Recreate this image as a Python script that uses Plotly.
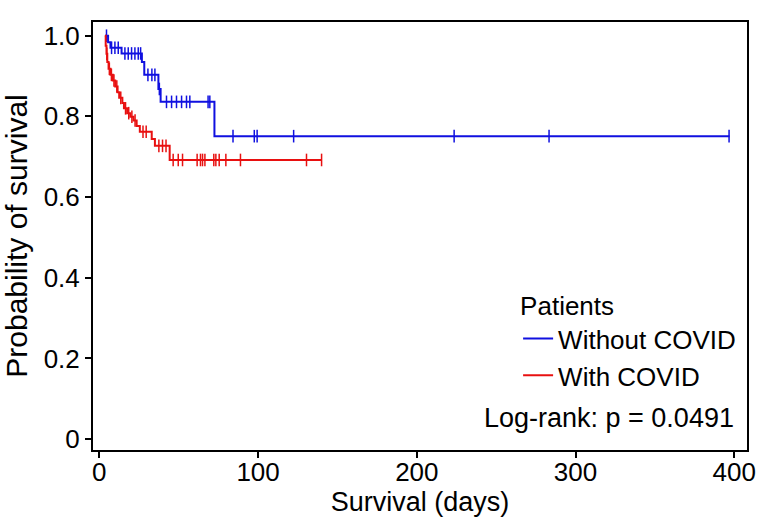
import numpy as np
import plotly.graph_objects as go

# Kaplan-Meier step data (time in days, survival probability after step)
blue_name = "Without COVID"
blue_step_t = [3.5, 5.5, 7.0, 14.0, 26.8, 28.3, 37.2, 38.6, 72.5]
blue_step_s = [1.0, 0.984, 0.970, 0.956, 0.935, 0.903, 0.868, 0.836, 0.751]
blue_end = 397.0
blue_censor_t = [4.5, 7.7, 9.8, 11.9, 16.1, 18.2, 20.3, 22.4, 24.5, 26.0,
                 30.6, 33.1, 35.0, 37.8, 42.3, 45.5, 48.6, 51.8, 54.9, 57.0,
                 68.5, 69.6, 84.2, 97.6, 99.4, 122.4, 223.5, 283.3, 396.7]

red_name = "With COVID"
red_step_t = [3.5, 4.0, 4.5, 5.0, 5.8, 7.0, 8.5, 10.0, 11.5, 12.5, 14.5, 15.5,
              17.5, 19.5, 21.5, 23.5, 25.5, 33.0, 35.0, 44.3]
red_step_s = [1.0, 0.975, 0.955, 0.935, 0.918, 0.903, 0.889, 0.874, 0.860,
              0.846, 0.833, 0.820, 0.808, 0.799, 0.790, 0.776, 0.762, 0.744,
              0.727, 0.692]
red_end = 140.0
red_censor_t = [4.7, 6.3, 7.6, 9.2, 11.0, 13.5, 16.5, 18.5, 20.5, 22.5, 27.5,
                29.5, 37.5, 39.8, 42.0, 46.5, 49.7, 52.4, 61.6, 63.7, 65.0,
                66.5, 72.1, 73.4, 75.5, 79.7, 88.9, 130.5, 140.0]

x_ticks = [0, 100, 200, 300, 400]
y_ticks = [0, 0.2, 0.4, 0.6, 0.8, 1.0]
y_ticktext = ["0", "0.2", "0.4", "0.6", "0.8", "1.0"]

legend_title = "Patients"
pvalue_text = "Log-rank: p = 0.0491"

BLUE = "#1010e0"
RED = "#e81010"
FONT = "Liberation Sans, Arial, sans-serif"
TICK_FS = 26
TEXT_FS = 27
LEG_FS = 26


def level_at(times, st, ss):
    st = np.asarray(st)
    ss = np.asarray(ss)
    idx = np.searchsorted(st, np.asarray(times), side="right") - 1
    idx = np.clip(idx, 0, len(ss) - 1)
    return ss[idx]


fig = go.Figure()
for name, st, ss, end, ct, col in [
    (blue_name, blue_step_t, blue_step_s, blue_end, blue_censor_t, BLUE),
    (red_name, red_step_t, red_step_s, red_end, red_censor_t, RED),
]:
    fig.add_trace(go.Scatter(
        x=list(st) + [end], y=list(ss) + [ss[-1]], mode="lines",
        line=dict(color=col, width=2, shape="hv"), name=name))
    fig.add_trace(go.Scatter(
        x=ct, y=level_at(ct, st, ss), mode="markers", showlegend=False,
        marker=dict(symbol="line-ns", size=9, line=dict(color=col, width=1.5)),
        hoverinfo="skip"))

fig.add_annotation(text=pvalue_text, xref="paper", yref="paper",
                   x=0.983, y=0.075, xanchor="right", yanchor="middle",
                   showarrow=False,
                   font=dict(size=TEXT_FS, color="black", family=FONT))

fig.update_xaxes(range=[-4, 408], tickvals=x_ticks, showline=True, mirror=True,
                 linecolor="black", linewidth=2, ticks="outside", ticklen=6,
                 tickwidth=2, tickcolor="black", showgrid=False, zeroline=False,
                 ticklabelstandoff=-8,
                 title=dict(text="Survival (days)", standoff=2,
                            font=dict(size=TEXT_FS, family=FONT, color="black")),
                 tickfont=dict(size=TICK_FS, family=FONT, color="black"))
fig.update_yaxes(range=[-0.027, 1.034], tickvals=y_ticks, ticktext=y_ticktext,
                 showline=True, mirror=True, linecolor="black", linewidth=2,
                 ticks="outside", ticklen=6, tickwidth=2, tickcolor="black",
                 showgrid=False, zeroline=False,
                 title=dict(text="Probability of survival", standoff=10,
                            font=dict(size=30, family=FONT, color="black")),
                 tickfont=dict(size=TICK_FS, family=FONT, color="black"))

fig.update_layout(
    width=765, height=522,
    margin=dict(l=93, r=18, t=22, b=72, autoexpand=False),
    paper_bgcolor="white", plot_bgcolor="white",
    font=dict(family=FONT, size=TEXT_FS, color="black"),
    legend=dict(title=dict(text=legend_title, font=dict(size=LEG_FS)),
                x=0.65, y=0.394, xanchor="left", yanchor="top",
                bgcolor="rgba(0,0,0,0)", font=dict(size=LEG_FS),
                tracegroupgap=0, itemwidth=30),
)

fig.write_html("out.html",
               config={"displayModeBar": False},
               post_script="document.body.style.margin='0';"
                           "document.body.style.overflow='hidden';")
